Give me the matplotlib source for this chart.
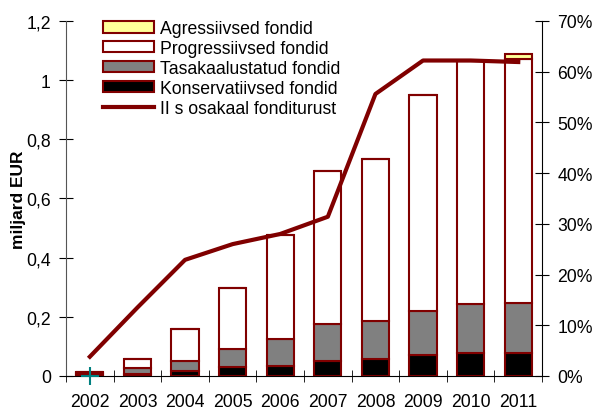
import numpy as np
import matplotlib
matplotlib.use("Agg")
import matplotlib.pyplot as plt
from matplotlib.ticker import FixedLocator, FuncFormatter, PercentFormatter

plt.rcParams['font.family'] = ['Liberation Sans', 'DejaVu Sans']

years = ["2002", "2003", "2004", "2005", "2006", "2007", "2008", "2009", "2010", "2011"]
konservatiivsed = [0.005, 0.007, 0.018, 0.032, 0.035, 0.052, 0.057, 0.071, 0.078, 0.078]
tasakaalustatud = [0.004, 0.019, 0.034, 0.059, 0.090, 0.123, 0.128, 0.148, 0.165, 0.169]
progressiivsed = [0.004, 0.031, 0.107, 0.205, 0.352, 0.519, 0.549, 0.732, 0.823, 0.825]
agressiivsed = [0, 0, 0, 0, 0, 0, 0, 0, 0, 0.015]
osakaal = [3.8, 13.5, 22.9, 26.0, 28.0, 31.4, 55.6, 62.2, 62.2, 61.9]

red = "#800000"
x = np.arange(len(years))
w = 0.57
fs = 12.7

fig = plt.figure(figsize=(5.95, 4.14), dpi=100)
ax = fig.add_axes([0.111, 0.0894, 0.800, 0.8576])

k = np.array(konservatiivsed)
t = np.array(tasakaalustatud)
p = np.array(progressiivsed)
a = np.array(agressiivsed)

b1 = ax.bar(x, k, w, color="black", edgecolor=red, linewidth=1.5)
b2 = ax.bar(x, t, w, bottom=k, color="#808080", edgecolor=red, linewidth=1.5)
b3 = ax.bar(x, p, w, bottom=k + t, color="white", edgecolor=red, linewidth=1.5)
b4 = ax.bar(x, a, w, bottom=k + t + p, color="#FFFF99", edgecolor=red, linewidth=1.5)
ax.plot([0], [0], marker="+", color="#008080", markersize=13, mew=1.5, clip_on=False, zorder=5)

ax.set_xlim(-0.5, 9.5)
ax.set_ylim(0, 1.2)
ax.set_yticks(np.arange(0, 1.21, 0.2))
ax.yaxis.set_major_formatter(FuncFormatter(lambda v, _: ("%g" % round(v, 1)).replace(".", ",")))
ax.set_xticks(x)
ax.set_xticklabels(years)
ax.xaxis.set_minor_locator(FixedLocator(np.arange(-0.5, 10, 1)))
ax.tick_params(axis="x", which="major", length=0, pad=12, labelsize=fs)
ax.tick_params(axis="x", which="minor", length=8, direction="inout")
ax.tick_params(axis="y", length=10, direction="inout", labelsize=fs, pad=6)
ax.set_ylabel("miljard EUR", fontsize=12.5, fontweight="bold", labelpad=0)
ax.spines["top"].set_visible(False)
ax.spines["right"].set_visible(False)
ax.spines["left"].set_color("#555555")

ax2 = ax.twinx()
line, = ax2.plot(x, osakaal, color=red, linewidth=3)
ax2.set_ylim(0, 70)
ax2.set_yticks(np.arange(0, 71, 10))
ax2.yaxis.set_major_formatter(PercentFormatter(decimals=0))
ax2.tick_params(axis="y", length=10, direction="inout", labelsize=fs, pad=6)
ax2.spines["top"].set_visible(False)
ax2.spines["left"].set_visible(False)
ax2.spines["bottom"].set_visible(False)

ax2.legend([b4, b3, b2, b1, line],
           ["Agressiivsed fondid", "Progressiivsed fondid", "Tasakaalustatud fondid",
            "Konservatiivsed fondid", "II s osakaal fonditurust"],
           loc="upper left", bbox_to_anchor=(0.078, 1.002), frameon=False, fontsize=fs,
           borderpad=0, borderaxespad=0,
           handlelength=2.9, handleheight=0.6, labelspacing=0.16, handletextpad=0.3)

fig.savefig("out.png", dpi=100)
